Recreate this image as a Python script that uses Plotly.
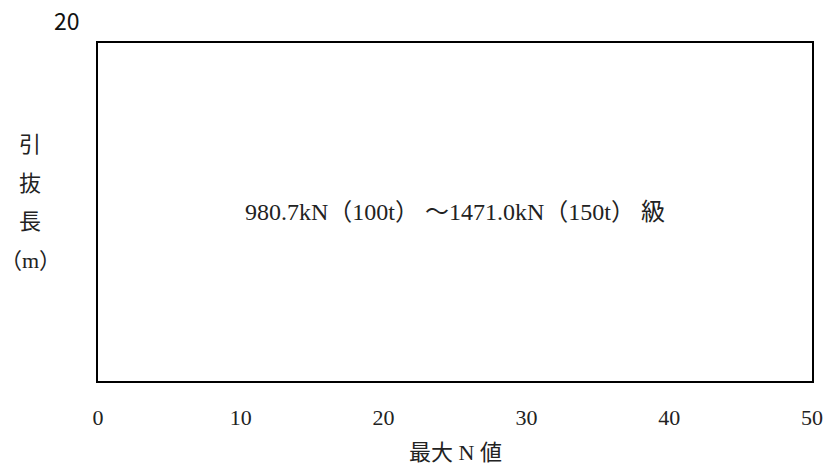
import plotly.graph_objects as go

# axis values
x_range = [0, 50]
y_range = [0, 20]
x_ticks = [0, 10, 20, 30, 40, 50]
y_top_label = "20"

x_title = "最大 N 値"
y_title_lines = ["引", "抜", "長", "（m）"]
center_label = "980.7kN（100t） ～1471.0kN（150t） 級"

serif = "Liberation Serif, Noto Sans CJK JP, serif"
gothic = "Noto Sans CJK JP, sans-serif"
ink = "#222"

W, H = 825, 468
L, R, T, B = 98, 13, 43, 87
pw, ph = W - L - R, H - T - B


def px_x(x):
    # pixel -> paper x
    return (x - L) / pw


def px_y(y):
    # pixel -> paper y
    return (H - B - y) / ph


fig = go.Figure()
fig.add_trace(go.Scatter(x=[], y=[], mode="lines", showlegend=False))

fig.add_annotation(
    x=sum(x_range) / 2, y=sum(y_range) / 2, xref="x", yref="y",
    text=center_label, showarrow=False,
    font=dict(family=serif, size=24, color=ink))

fig.add_annotation(
    x=px_x(67), y=px_y(20), xref="paper", yref="paper",
    text=y_top_label, showarrow=False, xanchor="center", yanchor="middle",
    font=dict(family=gothic, size=23, color="#111"))

# vertical y title, one character per row
for txt, yy in zip(y_title_lines, [144, 183, 221, 260]):
    fig.add_annotation(
        x=px_x(30), y=px_y(yy), xref="paper", yref="paper",
        text=txt, showarrow=False, xanchor="center", yanchor="middle",
        font=dict(family=serif, size=22, color=ink))

fig.add_annotation(
    x=0.5, y=px_y(452), xref="paper", yref="paper",
    text=x_title, showarrow=False, xanchor="center", yanchor="middle",
    font=dict(family=serif, size=22, color=ink))

fig.update_layout(
    width=W, height=H,
    margin=dict(l=L, r=R, t=T, b=B),
    paper_bgcolor="white", plot_bgcolor="white",
    xaxis=dict(
        range=x_range, tickvals=x_ticks, showgrid=False, zeroline=False,
        showline=True, linecolor="black", linewidth=2, mirror=True,
        ticks="", ticklabelstandoff=16, automargin=False,
        ticklabeloverflow="allow",
        tickfont=dict(family=serif, size=22, color=ink)),
    yaxis=dict(
        range=y_range, showgrid=False, zeroline=False, showticklabels=False,
        showline=True, linecolor="black", linewidth=2, mirror=True, ticks="",
        automargin=False),
)

# drop the default body margin so the 825x468 figure fills the window
fig.write_html("out.html", config={"displayModeBar": False}, post_script=(
    "document.body.style.margin='0';"
    "document.body.style.overflow='hidden';"))
